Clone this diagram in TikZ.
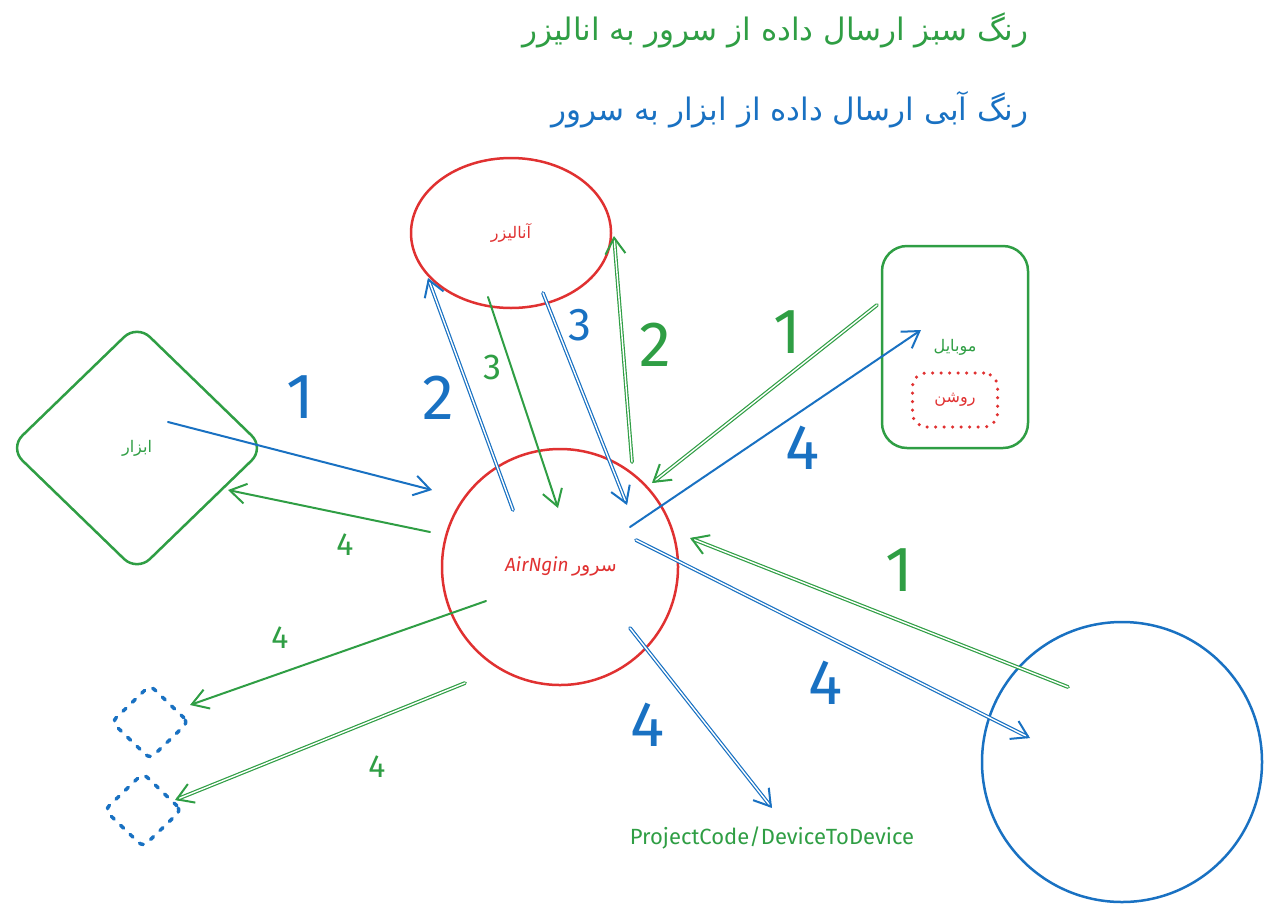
\documentclass[tikz,border=0pt]{standalone}
\usepackage{fontspec}
\usetikzlibrary{arrows.meta,shapes.geometric}
\TeXXeTstate=1
\newfontfamily\arabicfont[Script=Arabic]{DejaVu Sans}
\newfontfamily\handfont{Fira Sans}
\definecolor{xgreen}{HTML}{2F9E44}
\definecolor{xblue}{HTML}{1971C2}
\definecolor{xred}{HTML}{E03131}
\tikzset{
  shapeline/.style={draw,line width=2.5pt,inner sep=0pt},
  flow/.style={line width=2pt,->},
  twin/.style={line width=1.2pt,double=white,double distance=1.4pt,->},
  bignum/.style={font=\handfont\fontsize{64}{64}\selectfont},
  smallnum/.style={font=\handfont\fontsize{32}{32}\selectfont},
  fa/.style={font=\arabicfont\fontsize{16}{16}\selectfont}
}
\begin{document}
\begin{tikzpicture}[x=1pt,y=-1pt,line cap=round,line join=round,
    >={Straight Barb[length=16pt,width=20pt,line width=2pt]}]
        \useasboundingbox (0,0) rectangle (1273,911);

        % legend at the top
        \node[anchor=east,xgreen,font=\arabicfont\fontsize{31}{31}\selectfont] (legG) at (1032,30)
            {\beginR رنگ سبز ارسال داده از سرور به انالیزر\endR};
        \node[anchor=east,xblue,font=\arabicfont\fontsize{31}{31}\selectfont] (legB) at (1032,110)
            {\beginR رنگ آبی ارسال داده از ابزار به سرور\endR};

        % the boxes
        \node[shapeline,xred,ellipse,minimum width=200pt,minimum height=150pt,fa] (anl) at (511,233)
            {\beginR آنالیزر\endR};
        \node[shapeline,xgreen,rectangle,rounded corners=25pt,minimum width=146pt,minimum height=202pt] (mob) at (955,347) {};
        \node[xgreen,fa] (mobT) at (955,347) {\beginR موبایل\endR};
        \node[draw,xred,line width=3.5pt,dash pattern=on 0pt off 8.5pt,rounded corners=14pt,
            minimum width=85pt,minimum height=54pt,fa] (on) at (955,400) {\beginR روشن\endR};
        \node[shapeline,xgreen,diamond,rounded corners=18pt,minimum width=256pt,minimum height=248pt] (tool) at (137,448) {};
        \node[xgreen,fa] (toolT) at (137,448) {\beginR ابزار\endR};
        \node[shapeline,xred,circle,minimum size=236pt] (srv) at (560,567) {};
        \node[xred] (srvT) at (561,566)
            {{\handfont\itshape\fontsize{19}{19}\selectfont AirNgin} {\arabicfont\fontsize{19}{19}\selectfont\beginR سرور\endR}};
        \node[shapeline,xblue,circle,minimum size=280pt] (dev) at (1122,762) {};
        \foreach \n/\p in {dA/{(150,722)},dB/{(143,810)}}
            \node[draw,xblue,diamond,line width=3.5pt,dash pattern=on 4pt off 9pt,rounded corners=6pt,
                inner sep=0pt,minimum width=78pt,minimum height=75pt] (\n) at \p {};
        \node[xgreen,font=\handfont\fontsize{22}{22}\selectfont] (topic) at (772,838) {ProjectCode/DeviceToDevice};

        % ends of the arrows
        \coordinate (a1) at (168,422);  \coordinate (b1) at (432,490);
        \coordinate (a2) at (430,532);  \coordinate (b2) at (228,490);
        \coordinate (a3) at (513,510);  \coordinate (b3) at (428,278);
        \coordinate (a4) at (488,297);  \coordinate (b4) at (558,508);
        \coordinate (a5) at (543,293);  \coordinate (b5) at (627,505);
        \coordinate (a6) at (632,462);  \coordinate (b6) at (614,236);
        \coordinate (a7) at (877,305);  \coordinate (b7) at (652,483);
        \coordinate (a8) at (630,527);  \coordinate (b8) at (921,330);
        \coordinate (a9) at (636,540);  \coordinate (b9) at (1030,738);
        \coordinate (a10) at (1068,687); \coordinate (b10) at (690,538);
        \coordinate (a11) at (630,628); \coordinate (b11) at (772,808);
        \coordinate (a12) at (486,601); \coordinate (b12) at (190,705);
        \coordinate (a13) at (465,683); \coordinate (b13) at (175,800);

        % single arrows
        \foreach \i/\c in {1/xblue,2/xgreen,4/xgreen,8/xblue,12/xgreen}
            \draw[flow,\c] (a\i) -- (b\i);
        % doubled arrows
        \foreach \i/\c in {3/xblue,5/xblue,6/xgreen,7/xgreen,9/xblue,10/xgreen,11/xblue,13/xgreen}
            \draw[twin,\c] (a\i) -- (b\i);

        % step numbers
        \foreach \n/\p/\c/\t in {
            n1/{(300,397)}/xblue/1, n3/{(438,398)}/xblue/2, n6/{(655,345)}/xgreen/2,
            n7/{(787,332)}/xgreen/1, n8/{(803,448)}/xblue/4, n9/{(826,683)}/xblue/4,
            n10/{(899,570)}/xgreen/1, n11/{(648,725)}/xblue/4}
                \node[bignum,\c] (\n) at \p {\t};
        \node[xblue,font=\handfont\fontsize{46}{46}\selectfont] (n5) at (580,325) {3};
        \node[xgreen,font=\handfont\fontsize{36}{36}\selectfont] (n4) at (492,367) {3};
        \foreach \n/\p in {n2/{(345,545)},n12/{(280,638)},n13/{(377,767)}}
            \node[smallnum,xgreen] (\n) at \p {4};
\end{tikzpicture}
\end{document}
